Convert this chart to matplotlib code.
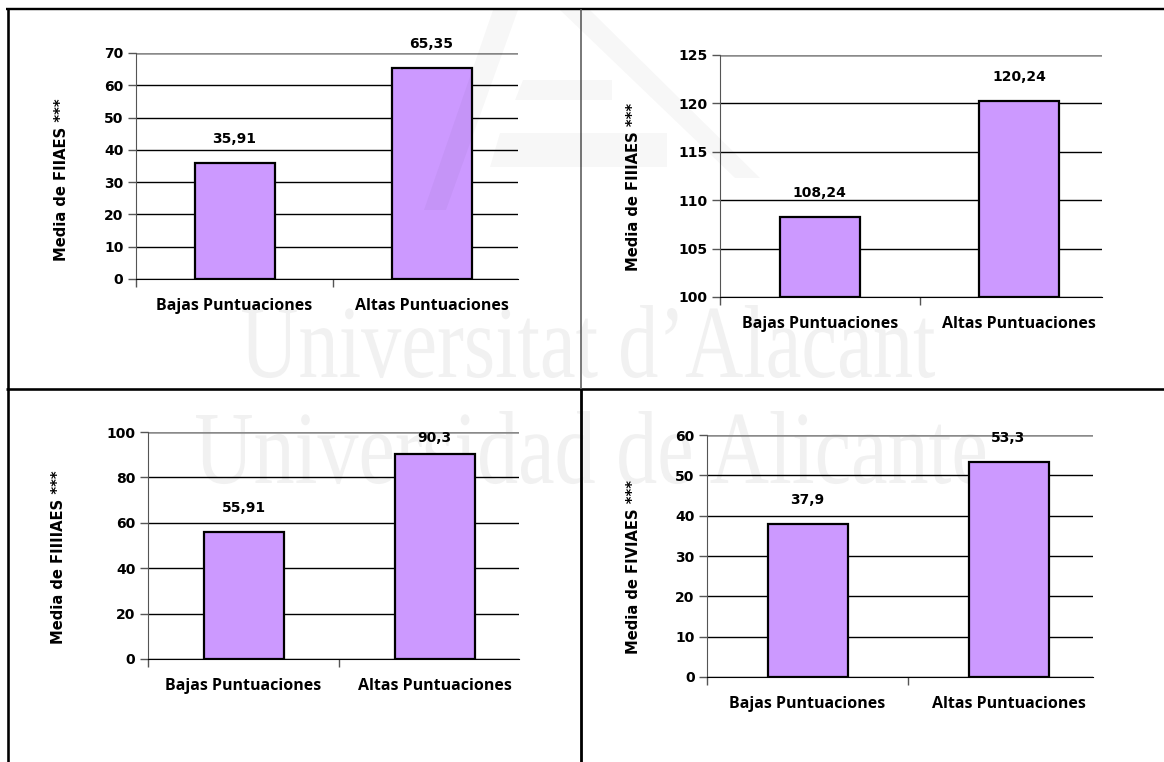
import matplotlib
matplotlib.use("Agg")
import matplotlib.pyplot as plt
from matplotlib.textpath import TextPath
from matplotlib.patches import PathPatch, Polygon
from matplotlib.font_manager import FontProperties
from matplotlib.transforms import Affine2D

W, H = 1164, 762

# data
categories = ["Bajas Puntuaciones", "Altas Puntuaciones"]
fiiaes = [35.91, 65.35]
fiiiaes = [108.24, 120.24]
fiiiiaes = [55.91, 90.3]
fiviaes = [37.9, 53.3]
ylabels = [
    "Media de FIIAES ***",
    "Media de FIIIAES ***",
    "Media de FIIIIAES ***",
    "Media de FIVIAES ***",
]
yranges = [(0, 70, 10), (100, 125, 5), (0, 100, 20), (0, 60, 10)]

# layout in pixels: axes box (left, top, right, bottom), category width,
# y label centre, head room for value labels
layout = [
    dict(box=(136, 53, 518, 279), cat=197.0, ylab=(61, 180), room=60),
    dict(box=(720, 55, 1102, 297), cat=199.5, ylab=(634, 187), room=60),
    dict(box=(148, 432, 518.6, 659), cat=191.0, ylab=(59, 557), room=-6),
    dict(box=(707, 435, 1093, 677), cat=201.0, ylab=(634, 567), room=-3),
]
series = [fiiaes, fiiiaes, fiiiiaes, fiviaes]

BAR = "#cc99ff"
NUM_FONT = dict(family="DejaVu Sans", weight="bold", size=10)
CAT_FONT = dict(family="Open Sans", weight="bold", size=11.5)

fig = plt.figure(figsize=(W / 100, H / 100), dpi=100)

# background layer: table borders and watermark text
bg = fig.add_axes([0, 0, 1, 1], zorder=-5)
bg.set_xlim(0, W)
bg.set_ylim(H, 0)
bg.axis("off")


def watermark(ax, s, x0, x1, baseline, asc, color="#f1f1f1"):
    tp = TextPath((0, 0), s, size=100, prop=FontProperties(family="Liberation Serif"))
    bb = tp.get_extents()
    sx = (x1 - x0) / bb.width
    sy = asc / bb.y1
    tr = (Affine2D().translate(-bb.x0, 0).scale(sx, -sy).translate(x0, baseline)
          + ax.transData)
    ax.add_patch(PathPatch(tp, transform=tr, fc=color, ec="none"))


watermark(bg, "Universitat d\u2019Alacant", 242, 935, 377, 72)
watermark(bg, "Universidad de Alicante", 196, 985, 483, 72)

px = 72 / 100  # pixel -> point
bg.plot([6, W], [9, 9], color="black", lw=2.4 * px, solid_capstyle="butt")
bg.plot([7.5, 7.5], [8, H], color="black", lw=2.6 * px, solid_capstyle="butt")
bg.plot([6, W], [389, 389], color="black", lw=2.6 * px, solid_capstyle="butt")
bg.plot([581, 581], [9, 389], color="#5a5a5a", lw=1.6 * px, solid_capstyle="butt")
bg.plot([581, 581], [389, H], color="black", lw=2.8 * px, solid_capstyle="butt")

for vals, ylab, (lo, hi, step), lay in zip(series, ylabels, yranges, layout):
    l, t, r, b = lay["box"]
    cat = lay["cat"]
    ax = fig.add_axes([l / W, 1 - b / H, (r - l) / W, (b - t) / H])
    ax.set_facecolor("none")
    ax.set_xlim(-0.5, -0.5 + (r - l) / cat)
    ax.set_ylim(lo, hi)
    ax.set_yticks(range(lo, hi + 1, step))
    ax.yaxis.grid(True, color="black", lw=1.0)
    ax.set_axisbelow(True)
    grid = ax.get_ygridlines()
    grid[-1].set_color("#8a8a8a")
    grid[-1].set_linewidth(1.8)

    for side in ("top", "right"):
        ax.spines[side].set_visible(False)
    ax.spines["left"].set_color("#555555")
    ax.spines["bottom"].set_color("black")
    ax.tick_params(axis="y", direction="out", length=6, width=1,
                   color="#555555", pad=3)
    for lab in ax.get_yticklabels():
        lab.set(**NUM_FONT)
    ax.set_xticks([-0.5, 0.5])
    ax.set_xticklabels([])
    ax.tick_params(axis="x", direction="out", length=6, width=1, color="#555555")

    x = list(range(len(categories)))
    ax.bar(x, [v - lo for v in vals], bottom=lo, width=80 / cat,
           color=BAR, edgecolor="black", linewidth=1.6, zorder=3)

    hpx = b - t
    for i, v in enumerate(vals):
        to_top = (hi - v) / (hi - lo) * hpx
        off = min(24, to_top + lay["room"])
        ax.annotate(f"{v:g}".replace(".", ","), (i, v), xytext=(0, off),
                    textcoords="offset pixels", ha="center", va="center",
                    zorder=5, **NUM_FONT)
        ax.annotate(categories[i], (i, 0), xycoords=("data", "axes fraction"),
                    xytext=(0, -27), textcoords="offset pixels",
                    ha="center", va="center", annotation_clip=False, **CAT_FONT)

    fig.text(lay["ylab"][0] / W, 1 - lay["ylab"][1] / H, ylab, rotation=90,
             ha="center", va="center", family="DejaVu Sans", weight="bold",
             size=10.6)

# faint logo drawn over everything
fg = fig.add_axes([0, 0, 1, 1], zorder=20)
fg.set_xlim(0, W)
fg.set_ylim(H, 0)
fg.axis("off")
fg.patch.set_alpha(0)
logo = [
    [(493, 10), (518, 10), (446, 210), (424, 210)],
    [(560, 10), (590, 10), (760, 178), (735, 178)],
    [(523, 80), (612, 80), (612, 100), (515, 100)],
    [(500, 133), (667, 133), (667, 167), (490, 167)],
]
for pts in logo:
    fg.add_patch(Polygon(pts, closed=True, fc="black", ec="none", alpha=0.03))

fig.savefig("out.png", dpi=100)
